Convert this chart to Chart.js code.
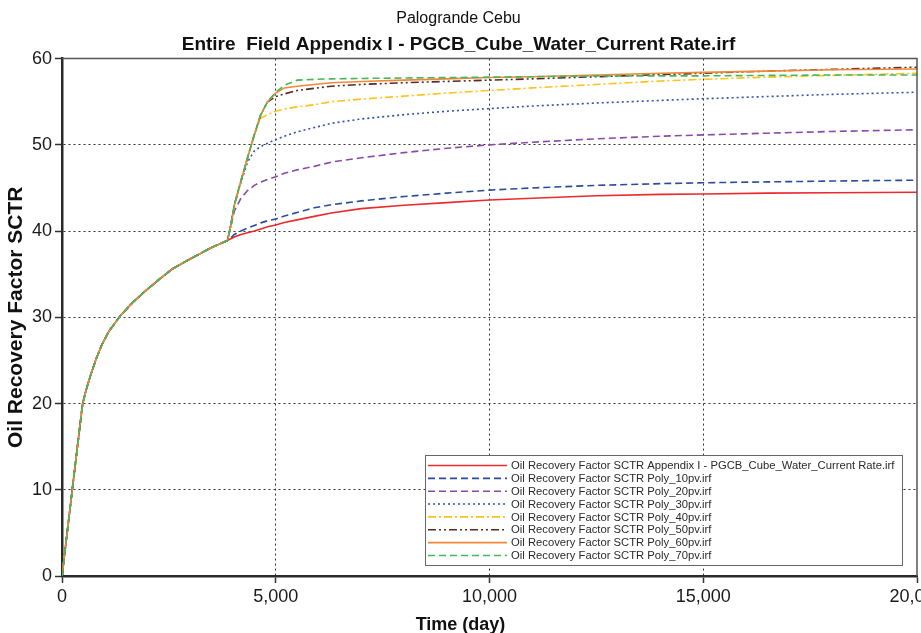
<!DOCTYPE html>
<html>
<head>
<meta charset="utf-8">
<script src="https://cdn.jsdelivr.net/npm/chart.js@4.4.1/dist/chart.umd.min.js"></script>
<style>
  html, body { margin: 0; padding: 0; background: #fff; overflow: hidden; }
  #chart { display: block; }
</style>
</head>
<body>
<canvas id="chart" width="921" height="633"></canvas>
<script>
'use strict';

const FONT = "'Liberation Sans', Arial, sans-serif";

const days = [0, 240, 480, 560, 670, 800, 940, 1100, 1370, 1650, 1960, 2300, 2580, 2900, 3200, 3500, 3870,
  3950, 4030, 4185, 4340, 4500, 4650, 4810, 5000, 5200, 5500, 5900, 6300,
  7000, 8000, 9000, 10000, 11000, 12500, 14000, 15000, 16500, 18000, 20000];

// every run is the same case until polymer injection starts (~3870 days)
const sharedRF = [0, 10.0, 19.9, 21.5, 23.3, 25.2, 26.9, 28.4, 30.2, 31.7, 33.1, 34.5, 35.6, 36.5, 37.3, 38.1, 38.9];

const baseRF = sharedRF.concat([39.1, 39.3, 39.6, 39.8, 40.0, 40.25, 40.5, 40.7, 41.0, 41.3, 41.7, 42.1,
  42.6, 43.0, 43.3, 43.6, 43.8, 44.1, 44.25, 44.3, 44.4, 44.45, 44.5]);
const poly10RF = sharedRF.concat([39.2, 39.6, 40.0, 40.35, 40.65, 40.95, 41.2, 41.4, 41.75, 42.15, 42.7, 43.05,
  43.5, 44.0, 44.4, 44.75, 45.0, 45.3, 45.5, 45.6, 45.7, 45.8, 45.9]);
const poly20RF = sharedRF.concat([40.5, 42.3, 43.8, 44.7, 45.3, 45.7, 46.0, 46.3, 46.7, 47.1, 47.5, 48.0,
  48.5, 49.1, 49.6, 50.0, 50.3, 50.7, 51.0, 51.15, 51.35, 51.55, 51.75]);
const poly30RF = sharedRF.concat([40.7, 43.0, 45.6, 48.0, 49.3, 49.8, 50.2, 50.6, 51.0, 51.5, 52.0, 52.5,
  53.0, 53.5, 53.9, 54.2, 54.5, 54.85, 55.15, 55.35, 55.6, 55.85, 56.1]);
const poly40RF = sharedRF.concat([40.7, 43.0, 45.8, 48.5, 51.2, 53.1, 53.5, 53.9, 54.15, 54.4, 54.65, 55.0,
  55.3, 55.65, 56.0, 56.3, 56.6, 57.0, 57.4, 57.6, 57.85, 58.05, 58.3]);
const poly50RF = sharedRF.concat([40.7, 43.0, 45.8, 48.5, 51.2, 53.5, 55.0, 55.6, 55.9, 56.3, 56.55, 56.8,
  57.0, 57.2, 57.35, 57.5, 57.65, 57.9, 58.15, 58.3, 58.55, 58.75, 59.0]);
const poly60RF = sharedRF.concat([40.7, 43.0, 45.8, 48.5, 51.2, 53.5, 55.0, 56.0, 56.6, 56.8, 57.0, 57.2,
  57.35, 57.5, 57.65, 57.8, 57.9, 58.1, 58.3, 58.4, 58.55, 58.7, 58.8]);
const poly70RF = sharedRF.concat([40.7, 43.0, 45.8, 48.5, 51.2, 53.5, 55.0, 56.1, 56.9, 57.5, 57.6, 57.65,
  57.7, 57.75, 57.8, 57.85, 57.9, 58.0, 58.0, 58.0, 58.05, 58.1, 58.1]);

const seriesNames = [
  'Oil Recovery Factor SCTR Appendix I - PGCB_Cube_Water_Current Rate.irf',
  'Oil Recovery Factor SCTR Poly_10pv.irf',
  'Oil Recovery Factor SCTR Poly_20pv.irf',
  'Oil Recovery Factor SCTR Poly_30pv.irf',
  'Oil Recovery Factor SCTR Poly_40pv.irf',
  'Oil Recovery Factor SCTR Poly_50pv.irf',
  'Oil Recovery Factor SCTR Poly_60pv.irf',
  'Oil Recovery Factor SCTR Poly_70pv.irf'
];
const seriesValues = [baseRF, poly10RF, poly20RF, poly30RF, poly40RF, poly50RF, poly60RF, poly70RF];
const seriesColors = ['#ec2a2e', '#2b4c9c', '#8a4aa8', '#3352b0', '#ffc21a', '#5a2b22', '#f0883a', '#45b85a'];
const seriesDashes = [[], [7, 4], [7, 4], [2, 3], [8, 3, 2, 3], [8, 3, 2, 3, 2, 3], [], [7, 4]];

const xTicks = [0, 5000, 10000, 15000, 20000];
const yTicks = [0, 10, 20, 30, 40, 50, 60];

const datasets = seriesValues.map((vals, i) => ({
  label: seriesNames[i],
  data: days.map((d, j) => ({x: d, y: vals[j]})),
  borderColor: seriesColors[i],
  borderDash: seriesDashes[i],
  borderWidth: 1.6,
  pointRadius: 0,
  fill: false,
  tension: 0,
  order: seriesValues.length - i
}));

// top/right frame, inset legend and the x axis title (centred on the page)
const overlay = {
  id: 'overlay',
  afterDraw(chart) {
    const {ctx, chartArea: a} = chart;
    ctx.save();
    ctx.strokeStyle = '#555';
    ctx.lineWidth = 1.5;
    ctx.beginPath();
    ctx.moveTo(a.left, a.top);
    ctx.lineTo(a.right, a.top);
    ctx.lineTo(a.right, a.bottom);
    ctx.stroke();

    const bx = a.right - 492, by = a.bottom - 121, bw = 477, bh = 110;
    ctx.fillStyle = '#fff';
    ctx.fillRect(bx, by, bw, bh);
    ctx.strokeStyle = '#666';
    ctx.lineWidth = 1;
    ctx.strokeRect(bx + 0.5, by + 0.5, bw, bh);
    ctx.font = '11.25px ' + FONT;
    ctx.textBaseline = 'middle';
    ctx.textAlign = 'left';
    seriesNames.forEach((name, i) => {
      const y = by + 10.5 + i * 12.85;
      ctx.strokeStyle = seriesColors[i];
      ctx.lineWidth = 1.6;
      ctx.setLineDash(seriesDashes[i]);
      ctx.beginPath();
      ctx.moveTo(bx + 3, y);
      ctx.lineTo(bx + 82, y);
      ctx.stroke();
      ctx.setLineDash([]);
      ctx.fillStyle = '#2a2a2a';
      ctx.fillText(name, bx + 86, y + 0.5);
    });

    ctx.font = 'bold 18px ' + FONT;
    ctx.fillStyle = '#111';
    ctx.textAlign = 'center';
    ctx.fillText('Time (day)', chart.width / 2, chart.height - 8);
    ctx.restore();
  }
};

const ctx = document.getElementById('chart').getContext('2d');

new Chart(ctx, {
  type: 'line',
  data: {datasets: datasets},
  plugins: [overlay],
  options: {
    responsive: false,
    animation: false,
    devicePixelRatio: 1,
    layout: {padding: {left: 0, right: 4, top: 0, bottom: 0}},
    plugins: {
      legend: {display: false},
      tooltip: {enabled: false},
      title: {
        display: true,
        text: 'Palogrande Cebu',
        color: '#111',
        font: {family: FONT, size: 16, weight: 'normal'},
        padding: {top: 9, bottom: 5}
      },
      subtitle: {
        display: true,
        text: 'Entire  Field Appendix I - PGCB_Cube_Water_Current Rate.irf',
        color: '#111',
        font: {family: FONT, size: 19, weight: 'bold'},
        padding: {top: 0, bottom: 2.6}
      }
    },
    scales: {
      x: {
        type: 'linear',
        min: 0,
        max: 20000,
        afterBuildTicks: (scale) => { scale.ticks = xTicks.map(v => ({value: v})); },
        afterFit: (scale) => { scale.height = 57; scale.paddingRight = 0; },
        ticks: {
          color: '#1a1a1a',
          font: {family: FONT, size: 18},
          padding: 3,
          maxRotation: 0,
          autoSkip: false,
          callback: (v) => v.toLocaleString('en-US')
        },
        grid: {
          color: (c) => (c.tick && (c.tick.value === 0 || c.tick.value === 20000)) ? 'rgba(0,0,0,0)' : '#333',
          lineWidth: 1,
          tickLength: 7,
          tickColor: '#333',
          tickWidth: 1.5
        },
        border: {display: true, color: '#2a2a2a', width: 2.5, dash: [2, 3]}
      },
      y: {
        min: 0,
        max: 60,
        afterBuildTicks: (scale) => { scale.ticks = yTicks.map(v => ({value: v})); },
        afterFit: (scale) => { scale.width = 62; },
        ticks: {
          color: '#1a1a1a',
          font: {family: FONT, size: 18},
          padding: 3
        },
        title: {
          display: true,
          text: 'Oil Recovery Factor SCTR',
          color: '#111',
          font: {family: FONT, size: 21, weight: 'bold'},
          padding: {top: 4, bottom: 0}
        },
        grid: {
          color: (c) => (c.tick && (c.tick.value === 0 || c.tick.value === 60)) ? 'rgba(0,0,0,0)' : '#333',
          lineWidth: 1,
          tickLength: 7,
          tickColor: '#333',
          tickWidth: 1.5
        },
        border: {display: true, color: '#2a2a2a', width: 2.5, dash: [2, 3]}
      }
    }
  }
});
</script>
</body>
</html>
